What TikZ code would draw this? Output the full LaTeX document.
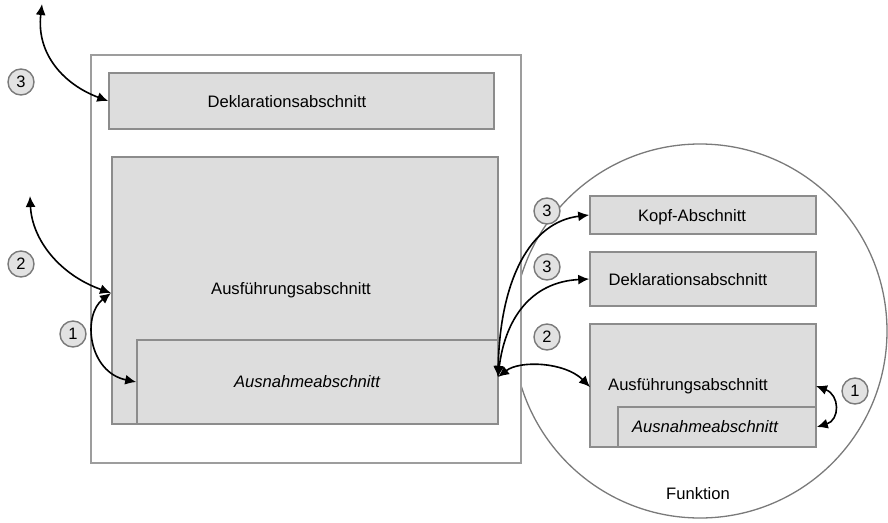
\documentclass[tikz,border=0pt]{standalone}
\usepackage{fontspec}
\setmainfont{Liberation Sans}
\usetikzlibrary{arrows.meta}
\definecolor{boxfill}{HTML}{DDDDDD}
\definecolor{boxline}{HTML}{8C8C8C}
\definecolor{ringline}{HTML}{7A7A7A}
\definecolor{numfill}{HTML}{E2E2E2}
\begin{document}
\begin{tikzpicture}[x=1pt,y=-1pt,
  secbox/.style={draw=boxline,fill=boxfill,line width=1.6pt,inner sep=0pt},
  frame/.style={draw=boxline!85,fill=white,line width=1.4pt,inner sep=0pt},
  lbl/.style={font=\fontsize{16.6}{19}\selectfont,inner sep=0pt},
  num/.style={circle,draw=ringline,fill=numfill,line width=1.4pt,minimum size=26pt,inner sep=0pt,font=\fontsize{16.5}{18}\selectfont},
  arr/.style={{Latex[length=11pt,width=10pt]}-{Latex[length=11pt,width=10pt]},line width=1.6pt,black}]
\useasboundingbox (0,0) rectangle (888,522);

% enclosing function
\node[circle,draw=ringline,line width=1.3pt,minimum size=374pt,inner sep=0pt] (funk) at (700,331) {};
\node[lbl] (funklbl) at (698,494) {Funktion};

% outer block
\node[frame,minimum width=430pt,minimum height=408pt] (outer) at (306,259) {};
\node[secbox,minimum width=385pt,minimum height=56pt] (dekl) at (301.5,101) {};
\node[lbl] (dekltxt) at (287,102) {Deklarationsabschnitt};
\node[secbox,minimum width=386pt,minimum height=267pt] (ausf) at (305,290.5) {};
\node[lbl] (ausftxt) at (291,290) {Ausführungsabschnitt};
\node[secbox,minimum width=361pt,minimum height=84pt] (ausn) at (317.5,382) {};
\node[lbl,font=\fontsize{16.6}{19}\selectfont\itshape] (ausntxt) at (307,382) {Ausnahmeabschnitt};

% function sections
\node[secbox,minimum width=226pt,minimum height=38pt] (kopf) at (703,215) {};
\node[lbl] (kopftxt) at (692,217) {Kopf-Abschnitt};
\node[secbox,minimum width=226pt,minimum height=54pt] (dekltwo) at (703,279) {};
\node[lbl] (dekltwotxt) at (688,280) {Deklarationsabschnitt};
\node[secbox,minimum width=226pt,minimum height=123pt] (ausftwo) at (703,385.5) {};
\node[lbl] (ausftwotxt) at (688,386) {Ausführungsabschnitt};
\node[secbox,minimum width=198pt,minimum height=40pt] (ausntwo) at (717,427) {};
\node[lbl,font=\fontsize{16.6}{19}\selectfont\itshape] (ausntwotxt) at (705,427) {Ausnahmeabschnitt};

% numbered markers
\node[num] (nA) at (21,82) {3};
\node[num] (nB) at (21,264) {2};
\node[num] (nC) at (73,334) {1};
\node[num] (nD) at (547,211) {3};
\node[num] (nE) at (547,267) {3};
\node[num] (nF) at (547,337) {2};
\node[num] (nG) at (855,391) {1};

% free ends and contact points
\coordinate (upA) at (42,4);
\coordinate (upB) at (30,196);
\coordinate (ausfL) at (111,293);
\coordinate (ausnR) at (498,377);
\coordinate (ausftwoL) at (590,387);
\coordinate (ausftwoR) at (816,386);

% connectors
\draw[arr] (upA) .. controls (36,55) and (65,85) .. (dekl.west);
\draw[arr] (upB) .. controls (32,240) and (60,275) .. (ausfL);
\draw[arr] (ausfL) .. controls (82,315) and (88,372) .. (ausn.west);
\draw[arr] (ausnR) .. controls (500,280) and (530,222) .. (kopf.west);
\draw[arr] (ausnR) .. controls (505,320) and (530,282) .. (dekltwo.west);
\draw[arr] (ausnR) .. controls (520,360) and (565,362) .. (ausftwoL);
\draw[arr] (ausftwoR) .. controls (840,395) and (840,420) .. (ausntwo.east);
\end{tikzpicture}
\end{document}
